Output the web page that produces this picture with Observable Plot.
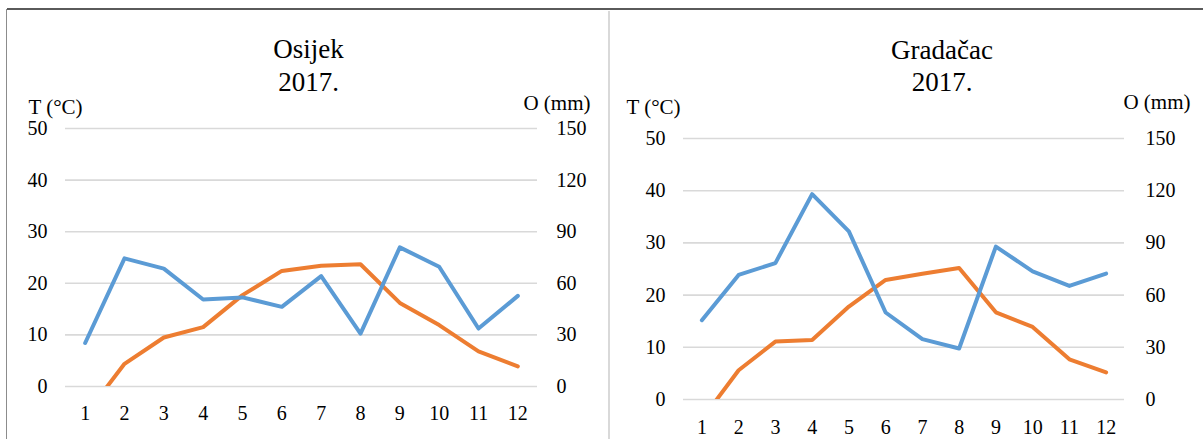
<!DOCTYPE html>
<html><head><meta charset="utf-8">
<script src="https://cdn.jsdelivr.net/npm/d3@7"></script>
<script src="https://cdn.jsdelivr.net/npm/@observablehq/plot@0.6"></script>
<style>
body{margin:0;background:#fff;}
#wrap{position:relative;width:1203px;height:439px;overflow:hidden;font-family:"Liberation Serif","Times New Roman",serif;background:#fff;}
.topline{position:absolute;left:7px;top:8px;width:1196px;height:2px;background:#5a5a5a;}
.leftline{position:absolute;left:6px;top:9px;width:1px;height:430px;background:#8c8c8c;}
.divider{position:absolute;left:608px;top:11px;width:2px;height:428px;background:#d9d9d9;}
.panel{position:absolute;top:10px;}
#p1{left:7px;}
#p2{left:609px;}
</style></head>
<body>
<div id="wrap">
  <div class="topline"></div>
  <div class="leftline"></div>
  <div class="divider"></div>
  <div class="panel" id="p1"></div>
  <div class="panel" id="p2"></div>
</div>
<script>
const months = [1, 2, 3, 4, 5, 6, 7, 8, 9, 10, 11, 12];
const osijekTemp = [-5.6, 4.4, 9.5, 11.5, 17.7, 22.4, 23.4, 23.7, 16.2, 11.9, 6.8, 3.9];
const osijekPrec = [25.3, 74.5, 68.5, 50.6, 51.8, 46.3, 64.2, 30.7, 80.9, 69.6, 33.7, 52.7];
const gradacacTemp = [-3.8, 5.6, 11.1, 11.4, 17.8, 22.9, 24.1, 25.2, 16.7, 13.9, 7.7, 5.2];
const gradacacPrec = [45.6, 71.6, 78.4, 118.0, 96.6, 50.0, 34.7, 29.3, 87.9, 73.6, 65.3, 72.4];
const tempTicks = [0, 10, 20, 30, 40, 50];
const precTicks = [0, 30, 60, 90, 120, 150];
const titles = ["Osijek", "Gradačac"];
const yearLabel = "2017.";
const tLabel = "T (°C)";
const oLabel = "O (mm)";

const ratio = precTicks[precTicks.length - 1] / tempTicks[tempTicks.length - 1];
const FONT = "'Liberation Serif', 'Times New Roman', serif";

function panel(cfg) {
  const tdata = months.map((m, i) => ({m, v: cfg.temp[i]}));
  const pdata = months.map((m, i) => ({m, v: cfg.prec[i] / ratio}));
  const txt = {fill: "#000", lineAnchor: "middle"};
  return Plot.plot({
    width: cfg.width, height: cfg.height,
    marginTop: cfg.mt, marginRight: cfg.mr, marginBottom: cfg.mb, marginLeft: cfg.ml,
    style: {fontFamily: FONT, fontSize: "20px", color: "#000", background: "transparent", overflow: "visible"},
    x: {domain: [0.5, 12.5], axis: null},
    y: {domain: [tempTicks[0], tempTicks[tempTicks.length - 1]], axis: null},
    marks: [
      Plot.gridY(tempTicks, {stroke: "#d9d9d9", strokeOpacity: 1, strokeWidth: 1.6}),
      Plot.axisX(months, {tickSize: 0, tickPadding: cfg.xpad, fontSize: 20, label: null, tickFormat: d => String(d)}),
      Plot.axisY(tempTicks, {anchor: "left", tickSize: 0, tickPadding: cfg.lpad, fontSize: 20, label: null, tickFormat: d => String(d)}),
      Plot.axisY(tempTicks, {anchor: "right", tickSize: 0, tickPadding: cfg.rpad, fontSize: 20, label: null, textAnchor: "start",
        tickFormat: d => String(precTicks[tempTicks.indexOf(d)])}),
      Plot.lineY(tdata, {x: "m", y: "v", stroke: "#ed7d31", strokeWidth: 4, strokeLinejoin: "round", strokeLinecap: "round", clip: true}),
      Plot.lineY(pdata, {x: "m", y: "v", stroke: "#5b9bd5", strokeWidth: 4, strokeLinejoin: "round", strokeLinecap: "round", clip: true}),
      Plot.text([cfg.title], {...txt, frameAnchor: "top", dx: cfg.tdx, dy: cfg.tdy1, fontSize: 27, textAnchor: "middle"}),
      Plot.text([yearLabel], {...txt, frameAnchor: "top", dx: cfg.tdx, dy: cfg.tdy2, fontSize: 27, textAnchor: "middle"}),
      Plot.text([tLabel], {...txt, frameAnchor: "top-left", dx: cfg.tlx, dy: cfg.tly, fontSize: 21, textAnchor: "start"}),
      Plot.text([oLabel], {...txt, frameAnchor: "top-right", dx: cfg.olx, dy: cfg.oly, fontSize: 21, textAnchor: "end"})
    ]
  });
}

document.getElementById("p1").append(panel({
  title: titles[0], temp: osijekTemp, prec: osijekPrec,
  width: 602, height: 429, mt: 118, mr: 72, mb: 53, ml: 58,
  xpad: 19, lpad: 18, rpad: 19,
  tdx: 7, tdy1: -79, tdy2: -46,
  tlx: -37, tly: -21, olx: 53, oly: -25
}));
document.getElementById("p2").append(panel({
  title: titles[1], temp: gradacacTemp, prec: gradacacPrec,
  width: 594, height: 429, mt: 128, mr: 79, mb: 40, ml: 74,
  xpad: 20, lpad: 18, rpad: 21,
  tdx: 38, tdy1: -88, tdy2: -56,
  tlx: -57, tly: -31, olx: 66, oly: -36
}));
</script>
</body></html>
